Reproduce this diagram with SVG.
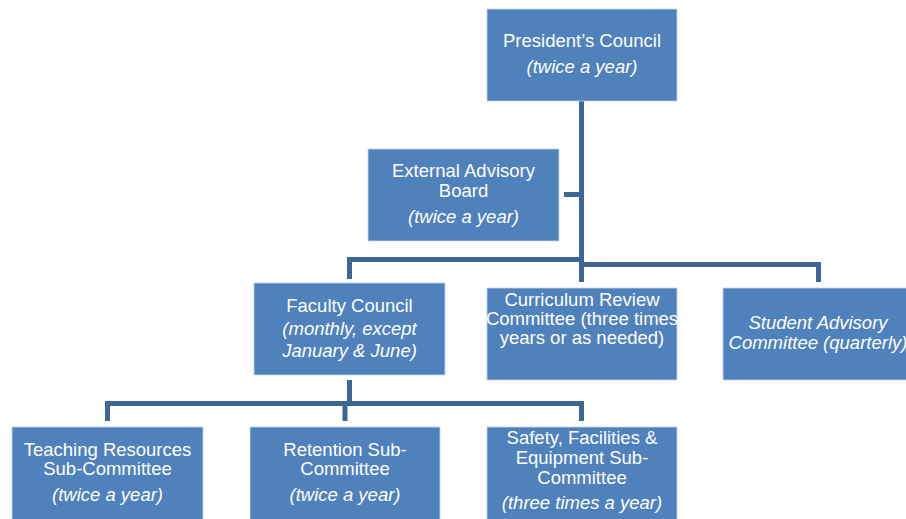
<svg xmlns="http://www.w3.org/2000/svg" width="906" height="519" viewBox="0 0 906 519">
<style>
.box{fill:#4f81bd;stroke:#c9d6e8;stroke-width:0.8}
.t{font-family:"Liberation Sans",Arial,sans-serif;font-size:18.5px;fill:#ffffff;text-anchor:middle}
.i{font-style:italic}
.c{fill:none;stroke:#3d6694;stroke-width:5;stroke-linejoin:miter}
</style>
<defs>
<clipPath id="clipCur"><rect x="487" y="288" width="190" height="92"/></clipPath>
</defs>
<rect width="906" height="519" fill="#ffffff"/>
<g id="connectors">
<path class="c" d="M581.5 101 V282"/>
<path class="c" d="M564 194.5 H581.5"/>
<path class="c" d="M349.5 279 V259.5 H581.5"/>
<path class="c" d="M581.5 264.5 H818.5 V282"/>
<path class="c" d="M349.5 380 V403.5"/>
<path class="c" d="M107.5 421 V403.5 H581.5 V421"/>
<path class="c" d="M345 403.5 V421"/>
</g>
<g id="presidents-council">
<rect class="box" x="487" y="9" width="190" height="92"/>
<text class="t" x="582" y="47">President’s Council</text>
<text class="t i" x="582" y="73">(twice a year)</text>
</g>
<g id="external-advisory-board">
<rect class="box" x="368" y="149" width="191" height="92"/>
<text class="t" x="463.5" y="177">External Advisory</text>
<text class="t" x="463.5" y="197">Board</text>
<text class="t i" x="463.5" y="223">(twice a year)</text>
</g>
<g id="faculty-council">
<rect class="box" x="254" y="283" width="191" height="92"/>
<text class="t" x="349.5" y="312">Faculty Council</text>
<text class="t i" x="349.5" y="335">(monthly, except</text>
<text class="t i" x="349.5" y="357">January &amp; June)</text>
</g>
<g id="curriculum-review-committee">
<rect class="box" x="487" y="288" width="190" height="92"/>
<g clip-path="url(#clipCur)">
<text class="t" x="582" y="306">Curriculum Review</text>
<text class="t" x="582" y="325">Committee (three times</text>
<text class="t" x="582" y="344">years or as needed)</text>
</g>
</g>
<g id="student-advisory-committee">
<rect class="box" x="723" y="288" width="190" height="92"/>
<text class="t i" x="818" y="329">Student Advisory</text>
<text class="t i" x="818" y="349">Committee (quarterly)</text>
</g>
<g id="teaching-resources-sub-committee">
<rect class="box" x="12" y="427" width="191" height="100"/>
<text class="t" x="107.5" y="456">Teaching Resources</text>
<text class="t" x="107.5" y="475">Sub-Committee</text>
<text class="t i" x="107.5" y="501">(twice a year)</text>
</g>
<g id="retention-sub-committee">
<rect class="box" x="250" y="427" width="190" height="100"/>
<text class="t" x="345" y="456">Retention Sub-</text>
<text class="t" x="345" y="475">Committee</text>
<text class="t i" x="345" y="501">(twice a year)</text>
</g>
<g id="safety-facilities-equipment-sub-committee">
<rect class="box" x="487" y="427" width="190" height="100"/>
<text class="t" x="582" y="444">Safety, Facilities &amp;</text>
<text class="t" x="582" y="464">Equipment Sub-</text>
<text class="t" x="582" y="484">Committee</text>
<text class="t i" x="582" y="509">(three times a year)</text>
</g>
</svg>
